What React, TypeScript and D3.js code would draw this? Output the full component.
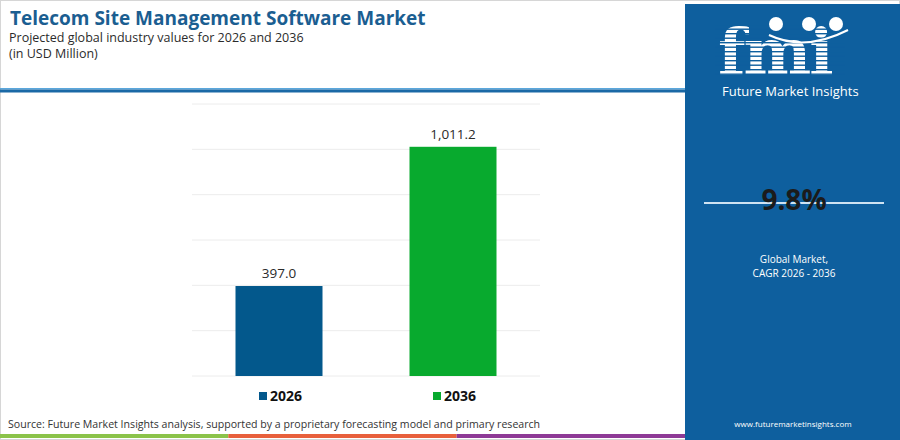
import { useMemo } from "react"
import * as d3 from "d3"

const years = ["2026", "2036"]
const values = [397.0, 1011.2]
const barColors = ["#03588c", "#08aa2e"]
const gridTicks = [0, 200, 400, 600, 800, 1000, 1200]
const cagrLabel = "9.8%"
const footerColors = ["#8bc34a", "#e8603c", "#8e3a96"]

const FONT = "'Open Sans', sans-serif"

export default function App() {
  const width = 900
  const height = 440
  const plot = { left: 192, right: 540, top: 104, bottom: 376 }

  const x = useMemo(
    () => d3.scaleBand<string>().domain(years).range([plot.left, plot.right]).paddingInner(0.5).paddingOuter(0.25),
    [],
  )
  const y = useMemo(() => d3.scaleLinear().domain([0, 1200]).range([plot.bottom, plot.top]), [])
  const fmt = d3.format(",.1f")

  const footerX = d3.scaleBand<number>().domain([0, 1, 2]).range([0, 685])

  return (
    <svg
      width={width}
      height={height}
      style={{ position: "absolute", left: 0, top: 0, background: "#fff" }}
      fontFamily={FONT}
    >
      <rect x={0.5} y={0.5} width={width - 1} height={height - 1} fill="#fff" stroke="#d6d6d6" />

      {/* header */}
      <text x={10} y={25} fontSize={19} fontWeight={700} fill="#1b5e91">
        Telecom Site Management  Software Market
      </text>
      <text x={9} y={42} fontSize={12.5} fill="#2b2b2b">
        Projected global industry values for 2026 and 2036
      </text>
      <text x={9} y={58} fontSize={12.5} fill="#2b2b2b">
        (in USD Million)
      </text>
      <rect x={0} y={88} width={686} height={1.5} fill="#5aa7dc" />
      <rect x={0} y={89.5} width={686} height={3} fill="#1a69a6" />

      {/* grid */}
      {gridTicks.map((t) => (
        <line key={t} x1={plot.left} x2={plot.right} y1={y(t)} y2={y(t)} stroke="#ececec" strokeWidth={1} />
      ))}

      {/* bars */}
      {years.map((yr, i) => (
        <g key={yr}>
          <rect
            x={x(yr)}
            y={y(values[i])}
            width={x.bandwidth()}
            height={y(0) - y(values[i])}
            fill={barColors[i]}
          />
          <text
            x={(x(yr) ?? 0) + x.bandwidth() / 2}
            y={y(values[i]) - 8}
            textAnchor="middle"
            fontSize={13.5}
            fill="#2b2b2b"
          >
            {fmt(values[i])}
          </text>
        </g>
      ))}

      {/* legend */}
      {years.map((yr, i) => {
        const cx = (x(yr) ?? 0) + x.bandwidth() / 2
        return (
          <g key={yr} transform={`translate(${cx - 20},396)`}>
            <rect x={0} y={-4} width={8} height={8} fill={barColors[i]} />
            <text x={11} y={5} fontSize={14} fontWeight={700} fill="#111">
              {yr}
            </text>
          </g>
        )
      })}

      {/* source */}
      <text x={8} y={428} fontSize={10.6} fill="#333">
        Source: Future Market Insights analysis, supported by a proprietary forecasting model and primary research
      </text>
      {footerColors.map((c, i) => (
        <rect key={c} x={footerX(i)} y={434} width={footerX.bandwidth()} height={4} fill={c} />
      ))}

      {/* right panel */}
      <rect x={685} y={4} width={215} height={436} fill="#0e5f9e" />
      <g fontFamily="'DejaVu Serif', serif">
        <text x={718} y={74} fontSize={64} fontWeight={700} fill="#fff" letterSpacing={-2}>
          fmi
        </text>
        {d3.range(24, 78, 4.5).map((yy) => (
          <rect key={yy} x={715} y={yy} width={130} height={1.4} fill="#0e5f9e" />
        ))}
      </g>
      {[776, 809, 836].map((cx) => (
        <circle key={cx} cx={cx} cy={24} r={7} fill="#fff" />
      ))}
      <path d="M 769 35 Q 805 52 848 30" fill="none" stroke="#fff" strokeWidth={2} />
      <text x={722} y={96} fontSize={13} fill="#fff" fontFamily="'Liberation Sans Narrow', 'Open Sans', sans-serif">
        Future Market Insights
      </text>

      <line x1={704} x2={884} y1={203} y2={203} stroke="#cfe3f3" strokeWidth={2} />
      <text x={794} y={210} textAnchor="middle" fontSize={28} fontWeight={700} fill="#1b1b1b">
        {cagrLabel}
      </text>
      <text x={794} y={263} textAnchor="middle" fontSize={10} fill="#fff">
        Global Market,
      </text>
      <text x={794} y={277} textAnchor="middle" fontSize={10} fill="#fff">
        CAGR 2026 - 2036
      </text>
      <text x={793} y={427} textAnchor="middle" fontSize={8} fill="#fff">
        www.futuremarketinsights.com
      </text>
    </svg>
  )
}
